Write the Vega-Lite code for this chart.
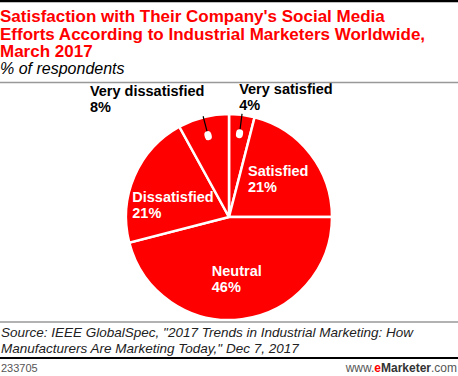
{
  "$schema": "https://vega.github.io/schema/vega-lite/v6.json",
  "width": 458,
  "height": 270,
  "autosize": "none",
  "padding": {"top": 82, "left": 0, "right": 0, "bottom": 24},
  "background": "white",
  "config": {"view": {"stroke": null}},
  "title": {
    "text": ["Satisfaction with Their Company's Social Media", "Efforts According to Industrial Marketers Worldwide,", "March 2017"],
    "subtitle": "% of respondents",
    "anchor": "start",
    "frame": "group",
    "offset": -78.5,
    "font": "Liberation Sans",
    "fontSize": 17,
    "fontWeight": "bold",
    "color": "#ff0000",
    "lineHeight": 17.5,
    "subtitleFont": "Liberation Sans",
    "subtitleFontSize": 16,
    "subtitleFontStyle": "italic",
    "subtitleColor": "#000000",
    "subtitlePadding": 0,
    "subtitleLineHeight": 18
  },
  "layer": [
    {
      "data": {"values": [
        {"category": "Very satisfied", "value": 4},
        {"category": "Satisfied", "value": 21},
        {"category": "Neutral", "value": 46},
        {"category": "Dissatisfied", "value": 21},
        {"category": "Very dissatisfied", "value": 8}
      ]},
      "transform": [
        {"window": [{"op": "row_number", "as": "idx"}]},
        {"calculate": "[datum.category, datum.value + '%']", "as": "label"}
      ],
      "encoding": {
        "theta": {"field": "value", "type": "quantitative", "stack": true},
        "order": {"field": "idx", "type": "quantitative"},
        "detail": {"field": "category", "type": "nominal"}
      },
      "layer": [
        {"mark": {"type": "arc", "outerRadius": 103, "fill": "#ff0000", "stroke": "white", "strokeWidth": 2.5}},
        {"mark": {"type": "arc", "innerRadius": 86, "outerRadius": 104, "padAngle": 1.2, "filled": false, "stroke": "black", "strokeWidth": 1.2},
         "encoding": {"strokeOpacity": {"condition": {"test": "datum.value < 10", "value": 1}, "value": 0}}},
        {"mark": {"type": "arc", "innerRadius": 83, "outerRadius": 85, "padAngle": 1.2, "filled": false, "stroke": "white", "strokeWidth": 7, "strokeCap": "round", "strokeJoin": "round"},
         "encoding": {"strokeOpacity": {"condition": {"test": "datum.value < 10", "value": 1}, "value": 0}}},
        {"mark": {"type": "text", "radius": 62, "font": "Liberation Sans", "fontSize": 14.5, "fontWeight": "bold", "fill": "white", "lineHeight": 16, "align": "left", "baseline": "middle", "dy": -7, "dx": -30},
         "encoding": {"text": {"condition": {"test": "datum.category === 'Satisfied'", "field": "label"}, "value": ""}}},
        {"mark": {"type": "text", "radius": 62, "font": "Liberation Sans", "fontSize": 14.5, "fontWeight": "bold", "fill": "white", "lineHeight": 16, "align": "left", "baseline": "middle", "dy": -7, "dx": -25},
         "encoding": {"text": {"condition": {"test": "datum.category === 'Neutral'", "field": "label"}, "value": ""}}},
        {"mark": {"type": "text", "radius": 60, "thetaOffset": -0.2, "font": "Liberation Sans", "fontSize": 14.5, "fontWeight": "bold", "fill": "white", "lineHeight": 16, "align": "left", "baseline": "middle", "dy": -7, "dx": -38},
         "encoding": {"text": {"condition": {"test": "datum.category === 'Dissatisfied'", "field": "label"}, "value": ""}}},
        {"mark": {"type": "text", "radius": 105, "font": "Liberation Sans", "fontSize": 14.5, "fontWeight": "bold", "fill": "black", "lineHeight": 16, "align": "left", "baseline": "bottom", "dx": -3, "dy": -16},
         "encoding": {"text": {"condition": {"test": "datum.category === 'Very satisfied'", "field": "label"}, "value": ""}}},
        {"mark": {"type": "text", "radius": 105, "font": "Liberation Sans", "fontSize": 14.5, "fontWeight": "bold", "fill": "black", "lineHeight": 16, "align": "left", "baseline": "bottom", "dx": -113, "dy": -16},
         "encoding": {"text": {"condition": {"test": "datum.category === 'Very dissatisfied'", "field": "label"}, "value": ""}}}
      ]
    },
    {
      "data": {"values": [{}]},
      "layer": [
        {"mark": {"type": "rule", "stroke": "#000000", "strokeWidth": 2.5}, "encoding": {"x": {"value": 0}, "x2": {"value": 458}, "y": {"value": -81}}},
        {"mark": {"type": "rule", "stroke": "#999999", "strokeWidth": 1.5}, "encoding": {"x": {"value": 0}, "x2": {"value": 458}, "y": {"value": 0.5}}},
        {"mark": {"type": "rule", "stroke": "#999999", "strokeWidth": 1.5}, "encoding": {"x": {"value": 0}, "x2": {"value": 458}, "y": {"value": 240}}},
        {"mark": {"type": "rule", "stroke": "#000000", "strokeWidth": 2}, "encoding": {"x": {"value": 0}, "x2": {"value": 458}, "y": {"value": 276}}},
        {"mark": {"type": "text", "align": "left", "baseline": "alphabetic", "font": "Liberation Sans", "fontSize": 13.5, "fontStyle": "italic", "fill": "#222222", "lineHeight": 16},
         "encoding": {"x": {"value": 1}, "y": {"value": 255}, "text": {"value": ["Source: IEEE GlobalSpec, \"2017 Trends in Industrial Marketing: How", "Manufacturers Are Marketing Today,\" Dec 7, 2017"]}}},
        {"mark": {"type": "text", "align": "left", "baseline": "alphabetic", "font": "Liberation Sans", "fontSize": 11, "fill": "#555555"},
         "encoding": {"x": {"value": 1}, "y": {"value": 290}, "text": {"value": "233705"}}},
        {"mark": {"type": "text", "align": "right", "baseline": "alphabetic", "font": "Liberation Sans", "fontSize": 12, "fill": "#555555"},
         "encoding": {"x": {"value": 457}, "y": {"value": 290}, "text": {"value": ".com"}}},
        {"mark": {"type": "text", "align": "right", "baseline": "alphabetic", "font": "Liberation Sans", "fontSize": 12, "fontWeight": "bold", "fill": "#333333"},
         "encoding": {"x": {"value": 431}, "y": {"value": 290}, "text": {"value": "Marketer"}}},
        {"mark": {"type": "text", "align": "right", "baseline": "alphabetic", "font": "Liberation Sans", "fontSize": 12, "fontWeight": "bold", "fill": "#ff0000"},
         "encoding": {"x": {"value": 381}, "y": {"value": 290}, "text": {"value": "e"}}},
        {"mark": {"type": "text", "align": "right", "baseline": "alphabetic", "font": "Liberation Sans", "fontSize": 12, "fill": "#555555"},
         "encoding": {"x": {"value": 374.3}, "y": {"value": 290}, "text": {"value": "www."}}}
      ]
    }
  ]
}
